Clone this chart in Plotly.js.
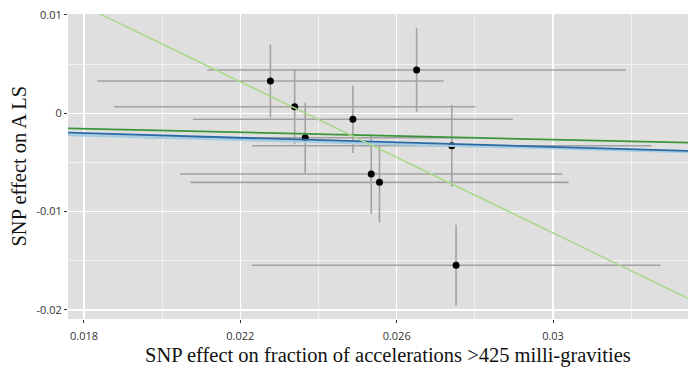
<!DOCTYPE html>
<html>
<head>
<meta charset="utf-8">
<script src="https://cdn.plot.ly/plotly-3.0.1.min.js"></script>
<style>html,body{margin:0;padding:0;background:#fff;}#chart{width:688px;height:370px;}</style>
</head>
<body>
<div id="chart"></div>
<script>
// SNP-level data
const snpX    = [0.02277, 0.02339, 0.02366, 0.02488, 0.02741, 0.02535, 0.02556, 0.02651, 0.02752];
const snpY    = [0.00328, 0.00067, -0.00248, -0.00061, -0.00330, -0.00617, -0.00702, 0.00440, -0.01546];
const snpXerr = [0.00443, 0.00462, 0.00415, 0.00409, 0.00511, 0.00489, 0.00484, 0.00536, 0.00523];
const snpYerr = [0.00371, 0.00381, 0.00356, 0.00342, 0.00417, 0.00403, 0.00407, 0.00424, 0.00412];

// MR method fits (slope, intercept)
const methodNames      = ["Light blue", "Blue", "Dark green", "Light green"];
const methodSlopes     = [-0.109, -0.1173, -0.092, -1.9216];
const methodIntercepts = [-0.000293, 0.0000935, 0.0000885, 0.04548];
const methodColors     = ["#a6cee3", "#2c6aa6", "#3a953a", "#a9d98a"];
const methodWidths     = [2.5, 1.8, 1.8, 1.5];

// Axis ticks
const xTickVals = [0.018, 0.022, 0.026, 0.03];
const xTickText = ["0.018", "0.022", "0.026", "0.03"];
const yTickVals = [0.01, 0, -0.01, -0.02];
const yTickText = ["0.01", "0", "-0.01", "-0.02"];

const xRange = [0.017591, 0.033454];
const yRange = [-0.02092, 0.0101];

const traces = [];
traces.push({
  x: snpX, y: snpY, type: "scatter", mode: "markers",
  marker: {color: "#000", size: 7},
  error_x: {type: "data", array: snpXerr, visible: true, color: "#a2a2a2", thickness: 1.6, width: 0},
  error_y: {type: "data", array: snpYerr, visible: true, color: "#a2a2a2", thickness: 1.6, width: 0},
  showlegend: false, hoverinfo: "skip"
});
for (let i = 0; i < methodNames.length; i++) {
  traces.push({
    x: xRange,
    y: xRange.map(v => methodIntercepts[i] + methodSlopes[i] * v),
    type: "scatter", mode: "lines", name: methodNames[i],
    line: {color: methodColors[i], width: methodWidths[i]},
    showlegend: false, hoverinfo: "skip"
  });
}

const tickFont = {family: "Open Sans, Liberation Sans, sans-serif", size: 11, color: "#333"};
const titleFont = {family: "Liberation Serif, Times New Roman, serif", size: 20.5, color: "#111"};

const layout = {
  width: 688, height: 370,
  margin: {l: 68, r: 0, t: 14, b: 51, pad: 0},
  paper_bgcolor: "#ffffff",
  plot_bgcolor: "#dfdfdf",
  showlegend: false,
  xaxis: {
    range: xRange, tickvals: xTickVals, ticktext: xTickText,
    showgrid: true, gridcolor: "#ffffff", gridwidth: 1.6,
    minor: {dtick: 0.002, tick0: 0.018, showgrid: true, gridcolor: "#f2f2f2", gridwidth: 1, ticks: ""},
    zeroline: false, showline: false,
    ticks: "outside", ticklen: 3, tickcolor: "#333", tickwidth: 1,
    ticklabelstandoff: 4,
    tickfont: tickFont
  },
  yaxis: {
    range: yRange, tickvals: yTickVals, ticktext: yTickText,
    showgrid: true, gridcolor: "#ffffff", gridwidth: 1.6,
    minor: {dtick: 0.005, tick0: 0, showgrid: true, gridcolor: "#f2f2f2", gridwidth: 1, ticks: ""},
    zeroline: false, showline: false,
    ticks: "outside", ticklen: 3, tickcolor: "#333", tickwidth: 1,
    tickfont: tickFont
  },
  annotations: [
    {text: "SNP effect on fraction of accelerations >425 milli-gravities",
     xref: "paper", yref: "paper", x: 0.516, y: -0.1197, xanchor: "center", yanchor: "middle",
     showarrow: false, font: titleFont},
    {text: "SNP effect on A LS",
     xref: "paper", yref: "paper", x: -0.0806, y: 0.5, xanchor: "center", yanchor: "middle",
     textangle: -90, showarrow: false, font: titleFont}
  ]
};

Plotly.newPlot("chart", traces, layout, {displayModeBar: false, staticPlot: true});
</script>
</body>
</html>
